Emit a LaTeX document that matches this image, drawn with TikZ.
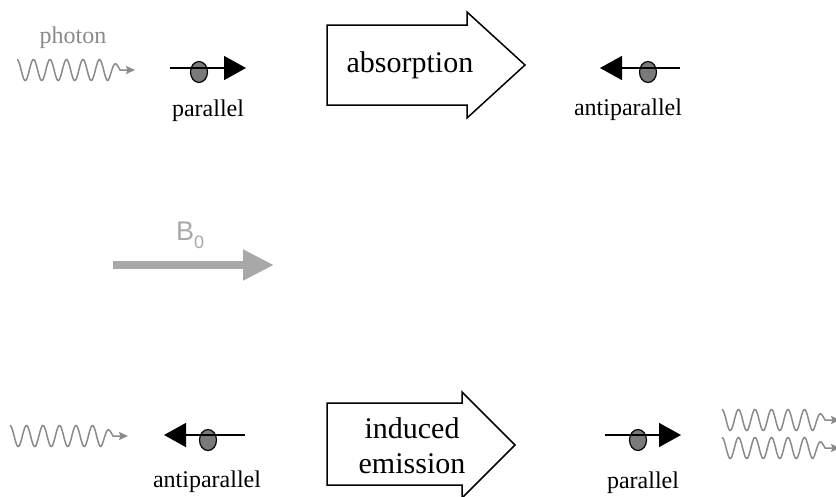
\documentclass[tikz,border=0pt]{standalone}
\usepackage{fontspec}
\setmainfont{Liberation Serif}
\setsansfont{Liberation Sans}
\usetikzlibrary{arrows.meta,shapes.geometric}
\definecolor{photongray}{HTML}{8A8A8A}
\definecolor{fieldgray}{HTML}{A8A8A8}
\definecolor{spingray}{HTML}{7A7A7A}
\tikzset{
  photonline/.style={draw=photongray, line width=1.5pt,
    -{Stealth[length=9pt,width=8pt,inset=1.5pt]}},
  spinball/.style={ellipse, draw=black, line width=1.2pt, fill=spingray,
    minimum width=17pt, minimum height=21pt, inner sep=0pt},
  spinline/.style={draw=black, line width=1.5pt,
    -{Triangle[length=22pt,width=24pt]}},
  lbl/.style={font=\fontsize{24}{28}\selectfont, anchor=base, inner sep=0pt},
  biglbl/.style={font=\fontsize{30}{35}\selectfont, anchor=base, inner sep=0pt},
  bigarrow/.style={draw=black, line width=1.5pt, fill=white, line join=miter},
}
\newcommand\photonwave[1]{%
  \begin{scope}[shift={#1}]
    \draw[photonline] plot[domain=0:5.5,samples=133] ({16.5*\x},{-10.5*cos(360*\x)})
      -- plot[domain=5.5:6.25,samples=25] ({16.5*\x},{-(10.5-9*(\x-5.5))*cos(360*\x)})
      -- (118,0);
  \end{scope}}
\begin{document}
\begin{tikzpicture}[x=1pt,y=-1pt]
\useasboundingbox (0,0) rectangle (836,496);

% ---------- top row ----------
\node[font=\fontsize{24}{28}\selectfont, text=photongray, anchor=base, inner sep=0pt] (photonlbl) at (73,43) {photon};
\photonwave{(17,70)}

\node[spinball] (s1) at (199,72) {};
\coordinate (s1a) at (170,68);
\coordinate (s1b) at (246,68);
\draw[spinline] (s1a) -- (s1b);
\node[lbl] (l1) at (208,116) {parallel};

\draw[bigarrow] (327,25) -- (467,25) -- (467,12) -- (525,65) -- (467,118) -- (467,105) -- (327,105) -- cycle;
\node[biglbl] (absorb) at (410,72) {absorption};

\node[spinball] (s2) at (648,72) {};
\coordinate (s2a) at (680,68);
\coordinate (s2b) at (600,68);
\draw[spinline] (s2a) -- (s2b);
\node[lbl] (l2) at (628,115) {antiparallel};

% ---------- field ----------
\coordinate (b0s) at (113,265);
\coordinate (b0e) at (274,265);
\draw[fieldgray, line width=8pt, -{Triangle[length=31pt,width=29pt]}] (b0s) -- (b0e);
\node[font=\sffamily\fontsize{27}{30}\selectfont, text=fieldgray, anchor=base west, inner sep=0pt] (b0) at (176,240) {B\raisebox{-8pt}{\fontsize{18}{20}\selectfont 0}};

% ---------- bottom row ----------
\photonwave{(10,436)}

\node[spinball] (s3) at (208,440) {};
\coordinate (s3a) at (245,435);
\coordinate (s3b) at (164,435);
\draw[spinline] (s3a) -- (s3b);
\node[lbl] (l3) at (207,487) {antiparallel};

\draw[bigarrow] (327,403) -- (462,403) -- (462,392) -- (515,445) -- (462,498) -- (462,485) -- (327,485) -- cycle;
\node[biglbl] (ind1) at (412,438) {induced};
\node[biglbl] (ind2) at (412,473) {emission};

\node[spinball] (s4) at (638,440) {};
\coordinate (s4a) at (605,435);
\coordinate (s4b) at (681,435);
\draw[spinline] (s4a) -- (s4b);
\node[lbl] (l4) at (643,488) {parallel};

\photonwave{(722,420)}
\photonwave{(722,448)}
\end{tikzpicture}
\end{document}
